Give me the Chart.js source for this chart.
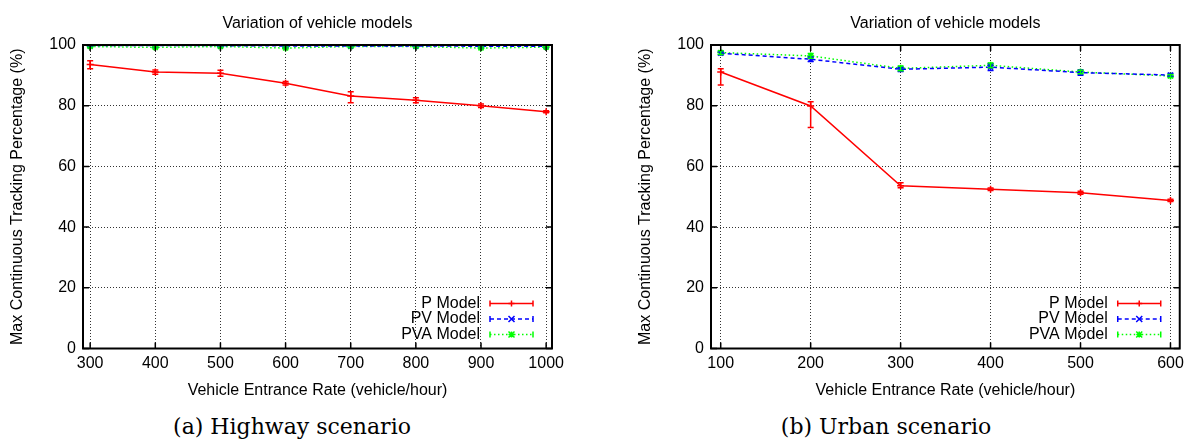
<!DOCTYPE html>
<html>
<head>
<meta charset="utf-8">
<title>Variation of vehicle models</title>
<script src="https://cdn.jsdelivr.net/npm/chart.js@4.4.0/dist/chart.umd.min.js"></script>
<style>
body{margin:0;background:#fff;width:1189px;height:443px;overflow:hidden;position:relative;}
.panel{position:absolute;top:0;width:594px;height:400px;}
#leftPanel{left:0;}
#rightPanel{left:595px;}
.caption{position:absolute;top:413px;width:400px;text-align:center;font-family:"DejaVu Serif",serif;font-size:22px;line-height:28px;color:#000;}
</style>
</head>
<body>
<div class="panel" id="leftPanel"><canvas id="highwayChart"></canvas></div>
<div class="panel" id="rightPanel"><canvas id="urbanChart"></canvas></div>
<div class="caption" style="left:92px;">(a) Highway scenario</div>
<div class="caption" style="left:686px;">(b) Urban scenario</div>
<script>
// texts
var titleText = "Variation of vehicle models";
var xAxisTitle = "Vehicle Entrance Rate (vehicle/hour)";
var yAxisTitle = "Max Continuous Tracking Percentage (%)";
var seriesNames = ["P Model", "PV Model", "PVA Model"];
var yTicks = [0, 20, 40, 60, 80, 100];

// (a) highway scenario
var highwayRates = [300, 400, 500, 600, 700, 800, 900, 1000];
var highwayP = [93.6, 91.1, 90.7, 87.4, 83.2, 81.8, 80.0, 78.0];
var highwayPLow = [92.2, 90.4, 89.7, 86.8, 81.0, 81.0, 79.4, 77.7];
var highwayPHigh = [94.8, 91.8, 91.7, 88.0, 84.6, 82.6, 80.6, 78.3];
var highwayPV = [99.8, 99.8, 99.8, 99.7, 99.7, 99.7, 99.6, 99.6];
var highwayPVLow = [99.5, 99.4, 99.5, 99.4, 99.5, 99.4, 99.3, 99.3];
var highwayPVHigh = [100, 100, 100, 100, 100, 100, 99.9, 99.9];
var highwayPVA = [99.5, 99.2, 99.5, 99.0, 99.5, 99.5, 99.0, 99.3];
var highwayPVALow = [99.2, 98.9, 99.2, 98.7, 99.2, 99.2, 98.7, 99.0];
var highwayPVAHigh = [99.8, 99.5, 99.8, 99.3, 99.8, 99.8, 99.3, 99.6];

// (b) urban scenario
var urbanRates = [100, 200, 300, 400, 500, 600];
var urbanP = [91.1, 79.9, 53.6, 52.5, 51.3, 48.8];
var urbanPLow = [86.8, 72.8, 53.0, 52.1, 50.8, 48.4];
var urbanPHigh = [92.2, 81.3, 54.6, 52.9, 51.8, 49.2];
var urbanPV = [97.3, 95.3, 92.0, 92.7, 90.9, 90.1];
var urbanPVLow = [96.8, 94.6, 91.3, 91.6, 90.0, 89.6];
var urbanPVHigh = [97.8, 96.0, 92.7, 93.8, 91.8, 90.6];
var urbanPVA = [97.5, 96.4, 92.3, 93.3, 91.1, 89.8];
var urbanPVALow = [96.9, 95.6, 91.5, 92.5, 90.5, 89.3];
var urbanPVAHigh = [98.1, 97.2, 93.1, 94.1, 91.7, 90.3];

var seriesColors = ["#ff0000", "#0000ff", "#00ff00"];
var seriesDashes = [[], [4, 3], [1.5, 2.5]];
var seriesMarkers = ["cross", "crossRot", "star"];

Chart.defaults.font.family = '"Liberation Sans", Arial, sans-serif';
Chart.defaults.font.size = 16;
Chart.defaults.color = "#000";

function drawMarker(ctx, style, x, y, r){//small gnuplot-like point symbols
	ctx.beginPath();
	if (style == "cross" || style == "star"){
		ctx.moveTo(x - r, y); ctx.lineTo(x + r, y);
		ctx.moveTo(x, y - r); ctx.lineTo(x, y + r);
	}
	if (style == "crossRot" || style == "star"){
		ctx.moveTo(x - r, y - r); ctx.lineTo(x + r, y + r);
		ctx.moveTo(x - r, y + r); ctx.lineTo(x + r, y - r);
	}
	ctx.stroke();
}

var gnuplotPlugin = {
	id: "gnuplotPlugin",
	afterDatasetsDraw: function(chart){//error bars
		var ctx = chart.ctx;
		var yScale = chart.scales.y;
		ctx.save();
		chart.data.datasets.forEach(function(ds, i){
			var meta = chart.getDatasetMeta(i);
			ctx.strokeStyle = ds.borderColor;
			ctx.lineWidth = 1.5;
			ctx.setLineDash([]);
			meta.data.forEach(function(pt, j){
				var lo = yScale.getPixelForValue(ds.errLow[j]);
				var hi = yScale.getPixelForValue(ds.errHigh[j]);
				ctx.beginPath();
				ctx.moveTo(pt.x, lo); ctx.lineTo(pt.x, hi);
				ctx.moveTo(pt.x - 3, lo); ctx.lineTo(pt.x + 3, lo);
				ctx.moveTo(pt.x - 3, hi); ctx.lineTo(pt.x + 3, hi);
				ctx.stroke();
			});
		});
		ctx.restore();
	},
	afterDraw: function(chart){//title, frame, inward ticks and legend
		var ctx = chart.ctx;
		var a = chart.chartArea;
		var xs = chart.scales.x, ys = chart.scales.y;
		ctx.save();

		// title centred over the plot box
		ctx.font = '16px "Liberation Sans", Arial, sans-serif';
		ctx.fillStyle = "#000";
		ctx.textAlign = "center";
		ctx.textBaseline = "middle";
		ctx.fillText(titleText, (a.left + a.right) / 2, 24);

		ctx.setLineDash([]);
		ctx.strokeStyle = "#000";
		ctx.lineWidth = 1.5;
		ctx.beginPath();
		xs.ticks.forEach(function(t){
			var px = xs.getPixelForValue(t.value);
			ctx.moveTo(px, a.bottom); ctx.lineTo(px, a.bottom - 6);
			ctx.moveTo(px, a.top); ctx.lineTo(px, a.top + 6);
		});
		ys.ticks.forEach(function(t){
			var py = ys.getPixelForValue(t.value);
			ctx.moveTo(a.left, py); ctx.lineTo(a.left + 6, py);
			ctx.moveTo(a.right, py); ctx.lineTo(a.right - 6, py);
		});
		ctx.stroke();
		ctx.lineWidth = 2;
		ctx.strokeRect(a.left, a.top, a.right - a.left, a.bottom - a.top);

		// legend in the lower right corner
		ctx.textAlign = "right";
		chart.data.datasets.forEach(function(ds, i){
			var y = a.bottom - 45 + i * 15.5;
			var x1 = a.right - 62, x2 = a.right - 19;
			ctx.fillStyle = "#000";
			ctx.fillText(ds.label, a.right - 72, y);
			ctx.strokeStyle = ds.borderColor;
			ctx.lineWidth = 1.5;
			ctx.setLineDash(ds.borderDash);
			ctx.beginPath(); ctx.moveTo(x1, y); ctx.lineTo(x2, y); ctx.stroke();
			ctx.setLineDash([]);
			ctx.beginPath();
			ctx.moveTo(x1, y - 3); ctx.lineTo(x1, y + 3);
			ctx.moveTo(x2, y - 3); ctx.lineTo(x2, y + 3);
			ctx.stroke();
			drawMarker(ctx, seriesMarkers[i], (x1 + x2) / 2, y, 3);
		});
		ctx.restore();
	}
};

function makeSet(i, rates, values, low, high){
	var pts = [];
	for (var k = 0; k < rates.length; k++){
		pts.push({x: rates[k], y: values[k]});
	}
	return {
		label: seriesNames[i],
		data: pts,
		errLow: low,
		errHigh: high,
		borderColor: seriesColors[i],
		backgroundColor: seriesColors[i],
		borderWidth: 1.5,
		borderDash: seriesDashes[i],
		pointStyle: seriesMarkers[i],
		pointRadius: 3.5,
		pointBorderWidth: 1.5,
		tension: 0,
		fill: false
	};
}

function makeChart(canvasId, rates, sets, xMin, xMax, padLeft, padRight){
	var gridStyle = {color: "rgba(0,0,0,0.8)", lineWidth: 1, drawTicks: false};
	return new Chart(document.getElementById(canvasId), {
		type: "line",
		data: {datasets: sets},
		plugins: [gnuplotPlugin],
		options: {
			responsive: true,
			maintainAspectRatio: false,
			animation: false,
			layout: {padding: {left: padLeft, right: padRight, top: 45, bottom: 0}},
			plugins: {
				legend: {display: false},
				tooltip: {enabled: false},
				title: {display: false}
			},
			scales: {
				x: {
					type: "linear",
					min: xMin,
					max: xMax,
					border: {display: false, dash: [1, 2]},
					grid: gridStyle,
					ticks: {
						padding: 5,
						maxRotation: 0,
						color: "#000",
						callback: function(v){ return String(v); }
					},
					afterBuildTicks: function(scale){
						scale.ticks = rates.map(function(v){ return {value: v}; });
					},
					afterFit: function(scale){ scale.height = 51.5; },
					title: {display: true, text: xAxisTitle, color: "#000", padding: {top: 0, bottom: 0}}
				},
				y: {
					min: 0,
					max: 100,
					border: {display: false, dash: [1, 2]},
					grid: gridStyle,
					ticks: {padding: 7, color: "#000"},
					afterBuildTicks: function(scale){
						scale.ticks = yTicks.map(function(v){ return {value: v}; });
					},
					afterFit: function(scale){ scale.width = 83; },
					title: {display: true, text: yAxisTitle, color: "#000", padding: {top: 8.4, bottom: 0}}
				}
			}
		}
	});
}

window.onload = function(){
	makeChart("highwayChart", highwayRates, [
		makeSet(0, highwayRates, highwayP, highwayPLow, highwayPHigh),
		makeSet(1, highwayRates, highwayPV, highwayPVLow, highwayPVHigh),
		makeSet(2, highwayRates, highwayPVA, highwayPVALow, highwayPVAHigh)
	], 289, 1009, 0, 42);

	makeChart("urbanChart", urbanRates, [
		makeSet(0, urbanRates, urbanP, urbanPLow, urbanPHigh),
		makeSet(1, urbanRates, urbanPV, urbanPVLow, urbanPVHigh),
		makeSet(2, urbanRates, urbanPVA, urbanPVALow, urbanPVAHigh)
	], 89.2, 610.3, 33, 9);
};
</script>
</body>
</html>
